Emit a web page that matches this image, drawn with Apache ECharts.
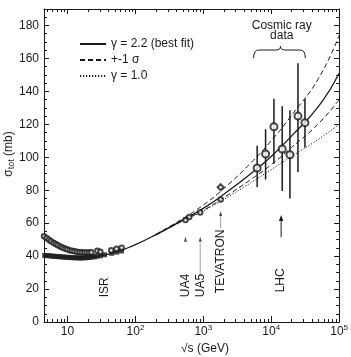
<!DOCTYPE html>
<html><head><meta charset="utf-8">
<script src="https://cdn.jsdelivr.net/npm/echarts@6/dist/echarts.min.js"></script>
<style>html,body{margin:0;padding:0;background:#fff}#c{width:351px;height:357px}</style>
</head><body><div id="c"></div>
<script>
// ---- data ----
const xMajorTicks = [10, 100, 1000, 10000, 100000];
const yMajorTicks = [0, 20, 40, 60, 80, 100, 120, 140, 160, 180];
const fitEnergies = [10, 20, 50, 100, 200, 500, 1000, 2000, 5000, 10000, 20000, 50000, 100000];
const fitBest = [39.6, 39.4, 42.3, 47, 53, 62, 69, 77.5, 90, 100.5, 113, 131, 151];
const bandEnergies = [200, 500, 1000, 2000, 5000, 10000, 20000, 50000, 100000];
const fitUpper = [53.2, 62.8, 71, 81, 96.5, 110, 125.5, 148, 174];
const fitLower = [52.8, 61.5, 67.8, 75.5, 86.5, 95.5, 106, 120.5, 135];
const fitGamma1 = [52.8, 61.3, 67.3, 74.5, 84.5, 92.5, 100.5, 111, 120];
const ppData = [[4.6,40.4],[5.0,40.3],[5.4,40.2],[5.9,40.0],[6.3,39.9],[6.8,39.8],[7.3,39.7],[7.8,39.6],[8.4,39.5],[9.1,39.4],[9.8,39.3],[10.6,39.2],[11.5,39.1],[12.4,39.0],[13.4,39.0],[14.5,38.9],[15.6,38.9],[16.8,38.9],[18.2,39.0],[19.6,39.1],[21.2,39.2],[23.0,39.5],[24.8,39.6],[27.0,39.9],[30.6,40.2],[35.0,40.8],[44.7,41.7],[52.8,42.4],[62.3,43.1]];
const ppbarData = [[4.5,52.0],[4.9,51.0],[5.3,50.0],[5.7,49.0],[6.2,48.1],[6.7,47.3],[7.2,46.6],[7.8,45.9],[8.4,45.2],[9.1,44.6],[9.8,44.1],[10.7,43.6],[11.6,43.2],[12.6,42.9],[13.7,42.6],[14.9,42.4],[16.2,42.3],[17.6,42.2],[19.1,42.2],[20.7,42.2],[22.4,42.3],[27.5,43.2],[30.4,42.6],[44.0,43.5],[52.6,44.4],[62.7,45.1]];
const colliderPpbar = [[546,61.9],[620,63.8],[900,66.5],[1800,74.4]];
const tevatronCDF = [[1800,81.8]];
// sqrt(s), sigma, lower end, upper end
const cosmicRay = [[6210,93.5,82,107],[8260,102,86.5,117],[10960,118.5,96,135.5],[14520,105,79.5,131],[18870,101.5,75,128.5],[24780,125,91,157],[31400,121,106,135.5]];
const arrowMarks = [[546,50.2],[900,50.2],[1800,65.9]];
const lhcArrow = [[14000,51.5,65]];
const guideLines = [[900,48,28.5],[1800,64.4,57]];
const machineLabels = [['ISR',35,15],['UA4',550,15],['UA5',900,15],['TEVATRON',1800,17.5],['LHC',14000,18]];
const legendNames = ['γ = 2.2 (best fit)', '+-1 σ', 'γ = 1.0'];

// ---- styles ----
const ink = '#1a1a1a';
const ff = '"Liberation Sans", Arial, Helvetica, sans-serif';
function minorLogTicks() {
  const arr = [];
  for (let e = 0; e < 5; e++) for (let k = 2; k <= 9; k++) {
    const v = k * Math.pow(10, e);
    if (v >= 4.5 && v <= 100000) arr.push(v);
  }
  return arr;
}
const yMinor = []; for (let v = 0; v <= 190; v += 5) yMinor.push(v);
const pairs = (xs, ys) => xs.map((x, i) => [x, ys[i]]);

const chart = echarts.init(document.getElementById('c'), null, {renderer: 'canvas'});

const xBase = {type: 'log', logBase: 10, min: 4.5, max: 100000, splitLine: {show: false}, axisLine: {show: false, onZero: false, lineStyle: {color: ink, width: 1}}, axisLabel: {show: false}};
const yBase = {type: 'value', min: 0, max: 190, splitLine: {show: false}, axisLine: {show: false, onZero: false, lineStyle: {color: ink, width: 1}}, axisLabel: {show: false}};
const tickStyle = {color: ink, width: 1};

const option = {
  animation: false,
  backgroundColor: '#fff',
  grid: {left: 44, right: 10, top: 9, bottom: 35},
  legend: {
    data: legendNames, orient: 'vertical', left: 74, top: 33,
    itemWidth: 26, itemHeight: 10, itemGap: 4, selectedMode: false,
    itemStyle: {color: 'rgba(0,0,0,0)', borderColor: 'rgba(0,0,0,0)', borderWidth: 0},
    textStyle: {fontSize: 12, color: ink, fontFamily: ff}
  },
  xAxis: [
    Object.assign({}, xBase, {position: 'bottom', axisLine: {show: true, onZero: false, lineStyle: {color: ink, width: 1}},
      axisTick: {show: true, inside: true, length: 6, customValues: xMajorTicks, lineStyle: tickStyle},
      axisLabel: {show: true, customValues: xMajorTicks, margin: 2, color: ink,
        formatter: function (v) { const e = Math.round(Math.log10(v)); return e === 1 ? '{b|10}' : '{b|10}{s|' + e + '}'; },
        rich: {b: {fontSize: 12, lineHeight: 16, fontFamily: ff, color: ink}, s: {fontSize: 8, verticalAlign: 'top', fontFamily: ff, color: ink}}}}),
    Object.assign({}, xBase, {position: 'bottom', axisTick: {show: true, inside: true, length: 3, customValues: minorLogTicks(), lineStyle: tickStyle}}),
    Object.assign({}, xBase, {position: 'top', axisLine: {show: true, onZero: false, lineStyle: {color: ink, width: 1}},
      axisTick: {show: true, inside: true, length: 5, customValues: xMajorTicks, lineStyle: tickStyle}}),
    Object.assign({}, xBase, {position: 'top', axisTick: {show: true, inside: true, length: 3, customValues: minorLogTicks(), lineStyle: tickStyle}})
  ],
  yAxis: [
    Object.assign({}, yBase, {position: 'left', axisLine: {show: true, onZero: false, lineStyle: {color: ink, width: 1}},
      axisTick: {show: true, inside: true, length: 5, customValues: yMajorTicks, lineStyle: tickStyle},
      axisLabel: {show: true, customValues: yMajorTicks, margin: 5, fontSize: 12, color: ink, fontFamily: ff}}),
    Object.assign({}, yBase, {position: 'left', axisTick: {show: true, inside: true, length: 3, customValues: yMinor, lineStyle: tickStyle}}),
    Object.assign({}, yBase, {position: 'right', axisLine: {show: true, onZero: false, lineStyle: {color: ink, width: 1}},
      axisTick: {show: true, inside: true, length: 5, customValues: yMajorTicks, lineStyle: tickStyle}}),
    Object.assign({}, yBase, {position: 'right', axisTick: {show: true, inside: true, length: 3, customValues: yMinor, lineStyle: tickStyle}})
  ],
  series: [
    {name: legendNames[0], type: 'line', smooth: true, symbol: 'none', data: pairs(fitEnergies, fitBest), lineStyle: {color: ink, width: 1.3}, itemStyle: {color: ink}, z: 2},
    {name: legendNames[1], type: 'line', smooth: true, symbol: 'none', data: pairs(bandEnergies, fitUpper), lineStyle: {color: ink, width: 1, type: [5, 3]}, itemStyle: {color: ink}, z: 2},
    {name: legendNames[1], type: 'line', smooth: true, symbol: 'none', data: pairs(bandEnergies, fitLower), lineStyle: {color: ink, width: 1, type: [5, 3]}, itemStyle: {color: ink}, z: 2},
    {name: legendNames[2], type: 'line', smooth: true, symbol: 'none', data: pairs(bandEnergies, fitGamma1), lineStyle: {color: ink, width: 1, type: [1.2, 1.8]}, itemStyle: {color: ink}, z: 2},
    {name: 'pp', type: 'scatter', symbol: 'rect', symbolSize: 5, data: ppData, itemStyle: {color: ink}, z: 4},
    {name: 'ppbar', type: 'scatter', symbol: 'emptyCircle', symbolSize: 4.5, data: ppbarData, itemStyle: {color: ink, borderWidth: 0.8}, z: 5},
    {name: 'collider', type: 'scatter', symbol: 'emptyCircle', symbolSize: 4.5, data: colliderPpbar, itemStyle: {color: ink, borderWidth: 0.8}, z: 5},
    {name: 'cdf', type: 'scatter', symbol: 'emptyDiamond', symbolSize: 6, data: tevatronCDF, itemStyle: {color: ink, borderWidth: 0.8}, z: 5},
    {name: 'cosmicErr', type: 'custom', data: cosmicRay, encode: {x: 0, y: 1}, z: 4,
      renderItem: function (params, api) {
        const x = api.value(0);
        const a = api.coord([x, api.value(2)]), b = api.coord([x, api.value(3)]);
        return {type: 'line', shape: {x1: a[0], y1: a[1], x2: b[0], y2: b[1]}, style: {stroke: ink, lineWidth: 1.5}};
      }},
    {name: 'cosmic', type: 'scatter', symbol: 'emptyCircle', symbolSize: 7, data: cosmicRay.map(d => [d[0], d[1]]), itemStyle: {color: ink, borderWidth: 1.1}, z: 6},
    {name: 'arrows', type: 'scatter', symbol: 'triangle', symbolSize: [3, 5], data: arrowMarks, itemStyle: {color: ink}, z: 4},
    {name: 'guides', type: 'custom', data: guideLines, encode: {x: 0, y: 1}, z: 3,
      renderItem: function (params, api) {
        const x = api.value(0);
        const a = api.coord([x, api.value(1)]), b = api.coord([x, api.value(2)]);
        return {type: 'line', shape: {x1: a[0], y1: a[1], x2: b[0], y2: b[1]}, style: {stroke: '#666', lineWidth: 0.6}};
      }},
    {name: 'lhc', type: 'custom', data: lhcArrow, encode: {x: 0, y: 1}, z: 4,
      renderItem: function (params, api) {
        const x = api.value(0);
        const a = api.coord([x, api.value(1)]), b = api.coord([x, api.value(2)]);
        return {type: 'group', children: [
          {type: 'line', shape: {x1: a[0], y1: a[1], x2: b[0], y2: b[1] + 4}, style: {stroke: ink, lineWidth: 1}},
          {type: 'polygon', shape: {points: [[b[0], b[1]], [b[0] - 2.2, b[1] + 6], [b[0] + 2.2, b[1] + 6]]}, style: {fill: ink}}
        ]};
      }}
  ]
};
chart.setOption(option);

// ---- annotations placed through the chart's own coordinate system ----
const px = (s, v) => chart.convertToPixel({xAxisIndex: 0, yAxisIndex: 0}, [s, v]);
const g = [];
machineLabels.forEach(function (m) {
  const p = px(m[1], m[2]);
  g.push({type: 'text', x: p[0], y: p[1], rotation: Math.PI / 2, z: 10,
    style: {text: m[0], fontSize: 12, fontFamily: ff, fill: ink, align: 'left', verticalAlign: 'middle'}});
});
const ct = px(14300, 176.7);
g.push({type: 'text', x: ct[0], y: ct[1], z: 10,
  style: {text: 'Cosmic ray\ndata', fontSize: 12, lineHeight: 10.5, fontFamily: ff, fill: ink, align: 'center', verticalAlign: 'middle'}});
// curly brace over the cosmic-ray points
const L = px(5510, 160.2), R = px(31800, 160.2), M = px(13700, 165.1), C = px(13700, 167.3);
const ym = M[1], yb = L[1], yc = C[1];
const bs = {fill: null, stroke: ink, lineWidth: 1};
g.push({type: 'bezierCurve', shape: {x1: L[0], y1: yb, cpx1: L[0], cpy1: ym, x2: L[0] + 5, y2: ym}, style: bs, z: 10});
g.push({type: 'line', shape: {x1: L[0] + 5, y1: ym, x2: M[0] - 5, y2: ym}, style: bs, z: 10});
g.push({type: 'bezierCurve', shape: {x1: M[0] - 5, y1: ym, cpx1: M[0], cpy1: ym, x2: M[0], y2: yc}, style: bs, z: 10});
g.push({type: 'bezierCurve', shape: {x1: M[0], y1: yc, cpx1: M[0], cpy1: ym, x2: M[0] + 5, y2: ym}, style: bs, z: 10});
g.push({type: 'line', shape: {x1: M[0] + 5, y1: ym, x2: R[0] - 5, y2: ym}, style: bs, z: 10});
g.push({type: 'bezierCurve', shape: {x1: R[0] - 5, y1: ym, cpx1: R[0], cpy1: ym, x2: R[0], y2: yb}, style: bs, z: 10});
// axis titles
g.push({type: 'text', x: 9, y: 154, rotation: Math.PI / 2, z: 10,
  style: {text: 'σ{sub|tot} (mb)', fontSize: 12, fontFamily: ff, fill: ink, align: 'center', verticalAlign: 'middle',
    rich: {sub: {fontSize: 9, fontFamily: ff, fill: ink, verticalAlign: 'bottom', lineHeight: 14}}}});
g.push({type: 'text', x: 205, y: 349, z: 10,
  style: {text: '√s (GeV)', fontSize: 12, fontFamily: ff, fill: ink, align: 'center', verticalAlign: 'middle'}});
chart.setOption({graphic: g});
</script>
</body></html>
